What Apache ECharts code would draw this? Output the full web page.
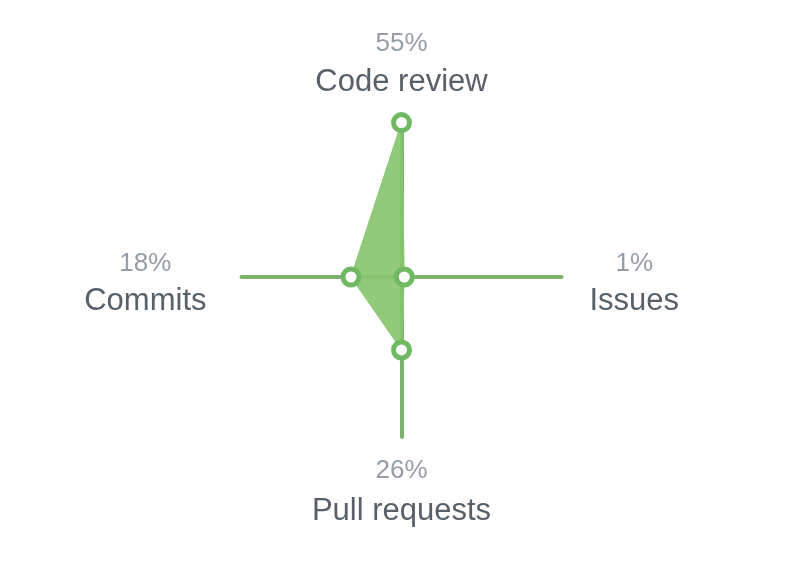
<!DOCTYPE html>
<html>
<head>
<meta charset="utf-8">
<script src="https://cdn.jsdelivr.net/npm/echarts@6/dist/echarts.min.js"></script>
<style>
html,body{margin:0;padding:0;background:#fff;}
#chart{width:790px;height:563px;}
</style>
</head>
<body>
<div id="chart"></div>
<script>
// order follows the radar: top, left, bottom, right
const categories = ['Code review', 'Commits', 'Pull requests', 'Issues'];
const percents = [55, 18, 26, 1];
const axisMax = 57;
// label side per axis, picks the rich style
const sides = ['t', 'l', 'b', 'r'];

let chart = echarts.init(document.getElementById('chart'));

let pBase = { fontFamily: 'Liberation Sans', fontSize: 26, color: '#959da5', lineHeight: 37, align: 'center' };
let nBase = { fontFamily: 'Liberation Sans', fontSize: 31, color: '#586069', lineHeight: 40, align: 'center' };

chart.setOption({
	animation: false,
	radar: {
		center: [401.5, 277],
		radius: 160,
		startAngle: 90,
		indicator: categories.map(n => ({ name: n, min: 0, max: axisMax })),
		splitNumber: 1,
		shape: 'polygon',
		nameGap: 15,
		axisName: {
			formatter: (name) => {
				let i = categories.indexOf(name);
				let s = sides[i];
				return '{p' + s + '|' + percents[i] + '%}\n{n' + s + '|' + name + '}';
			},
			rich: {
				pt: pBase, nt: nBase,
				pb: pBase,
				nb: Object.assign({}, nBase, { padding: [4, 0, 0, 0] }),
				pl: Object.assign({}, pBase, { padding: [14, 20, 0, 0] }),
				nl: Object.assign({}, nBase, { padding: [12, 20, 0, 0] }),
				pr: Object.assign({}, pBase, { padding: [14, 0, 0, 13] }),
				nr: Object.assign({}, nBase, { padding: [12, 0, 0, 13] })
			}
		},
		axisLine: { lineStyle: { color: '#7bb36c', width: 4 } },
		splitLine: { show: false },
		splitArea: { show: false },
		axisTick: { show: false },
		axisLabel: { show: false }
	},
	series: [{
		type: 'radar',
		symbol: 'circle',
		symbolSize: 16,
		itemStyle: { color: '#ffffff', borderColor: '#70b862', borderWidth: 5 },
		lineStyle: { color: '#8cc874', width: 1 },
		areaStyle: { color: '#86c46d', opacity: 0.9 },
		data: [{ value: percents }]
	}]
});
</script>
</body>
</html>
